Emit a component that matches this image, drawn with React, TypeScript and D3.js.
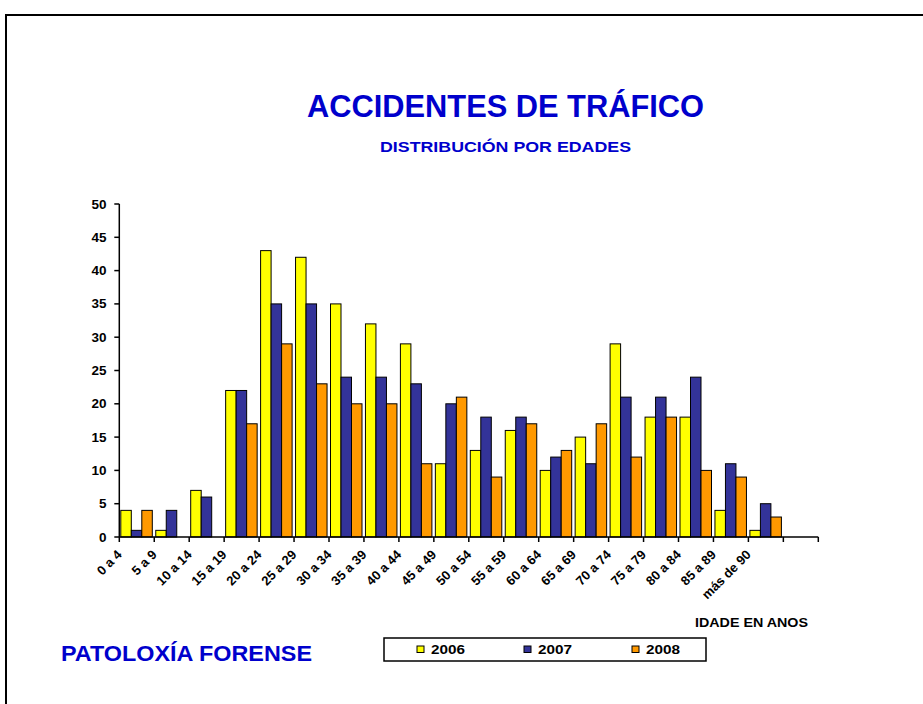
import React from "react";
import * as d3 from "d3";

const categories = ["0 a 4", "5 a 9", "10 a 14", "15 a 19", "20 a 24", "25 a 29", "30 a 34", "35 a 39", "40 a 44", "45 a 49", "50 a 54", "55 a 59", "60 a 64", "65 a 69", "70 a 74", "75 a 79", "80 a 84", "85 a 89", "más de 90", ""];
const seriesNames = ["2006", "2007", "2008"];
const values2006 = [4, 1, 7, 22, 43, 42, 35, 32, 29, 11, 13, 16, 10, 15, 29, 18, 18, 4, 1];
const values2007 = [1, 4, 6, 22, 35, 35, 24, 24, 23, 20, 18, 18, 12, 11, 21, 21, 24, 11, 5];
const values2008 = [4, 0, 0, 17, 29, 23, 20, 20, 11, 21, 9, 17, 13, 17, 12, 18, 10, 9, 3];
const yTicks = [0, 5, 10, 15, 20, 25, 30, 35, 40, 45, 50];
const colors = ["#FFFF00", "#333399", "#FF9900"];

const FONT = "'Liberation Sans', Arial, sans-serif";
const BLUE = "#0000CC";

export default function App() {
  const x0 = 119.3, x1 = 818.3, yTop = 204, yBot = 537;
  const x = d3.scaleBand<string>().domain(categories.map((c, i) => String(i))).range([x0, x1]).padding(0);
  const y = d3.scaleLinear().domain([0, 50]).range([yBot, yTop]);
  const allSeries = [values2006, values2007, values2008];
  const barW = 10.5;
  const barOff = 1.5;

  const tickXs = categories.map((_, i) => x(String(i))!).concat([x1]);

  return (
    <div style={{ position: "absolute", left: 0, top: 0 }}>
      <svg width={923} height={704} style={{ display: "block", background: "#fff" }} fontFamily={FONT}>
        {/* frame */}
        <path d="M6,710 L6,15 L930,15" fill="none" stroke="#000" strokeWidth={2} />

        {/* titles */}
        <text x={505.5} y={117} textAnchor="middle" fontSize={30.5} fontWeight="bold" fill={BLUE} textLength={397} lengthAdjust="spacingAndGlyphs">ACCIDENTES DE TRÁFICO</text>
        <text x={505.5} y={152} textAnchor="middle" fontSize={15} fontWeight="bold" fill={BLUE} textLength={251} lengthAdjust="spacingAndGlyphs">DISTRIBUCIÓN POR EDADES</text>

        {/* bars */}
        {allSeries.map((vals, s) => (
          <g key={s}>
            {vals.map((v, i) => v > 0 ? (
              <rect key={i} x={x(String(i))! + barOff + s * barW} y={y(v)} width={barW} height={y(0) - y(v)} fill={colors[s]} stroke="#000" strokeWidth={1} />
            ) : null)}
          </g>
        ))}

        {/* y axis */}
        <line x1={x0} x2={x0} y1={yTop} y2={yBot} stroke="#000" strokeWidth={1.5} />
        {yTicks.map((t) => (
          <g key={t}>
            <line x1={x0 - 5} x2={x0} y1={y(t)} y2={y(t)} stroke="#000" strokeWidth={1.5} />
            <text x={106.5} y={y(t) + 4.5} textAnchor="end" fontSize={12.5} fontWeight="bold" fill="#000" textLength={t >= 10 ? 15 : 7.5} lengthAdjust="spacingAndGlyphs">{t}</text>
          </g>
        ))}

        {/* x axis */}
        <line x1={x0} x2={x1} y1={yBot} y2={yBot} stroke="#000" strokeWidth={1.5} />
        {tickXs.map((tx, i) => (
          <line key={i} x1={tx} x2={tx} y1={yBot} y2={yBot + 5} stroke="#000" strokeWidth={1.5} />
        ))}
        {categories.map((c, i) => c ? (
          <text key={i} transform={`translate(${x(String(i))! + 3.3},${555.5}) rotate(-45)`} textAnchor="end" fontSize={13} fontWeight="bold" fill="#000">{c}</text>
        ) : null)}

        <text x={751.5} y={627} textAnchor="middle" fontSize={12} fontWeight="bold" fill="#000" textLength={113} lengthAdjust="spacingAndGlyphs">IDADE EN ANOS</text>

        <text x={61} y={661} fontSize={22.5} fontWeight="bold" fill={BLUE} textLength={251} lengthAdjust="spacingAndGlyphs">PATOLOXÍA FORENSE</text>

        {/* legend */}
        <rect x={384} y={638} width={322} height={23} fill="#fff" stroke="#000" strokeWidth={1.5} />
        {seriesNames.map((n, s) => {
          const lx = [417, 524, 632][s];
          return (
            <g key={n}>
              <rect x={lx} y={646} width={7} height={6.5} fill={colors[s]} stroke="#000" strokeWidth={1} />
              <text x={lx + 14} y={654} fontSize={13} fontWeight="bold" fill="#000" textLength={34} lengthAdjust="spacingAndGlyphs">{n}</text>
            </g>
          );
        })}
      </svg>
    </div>
  );
}
